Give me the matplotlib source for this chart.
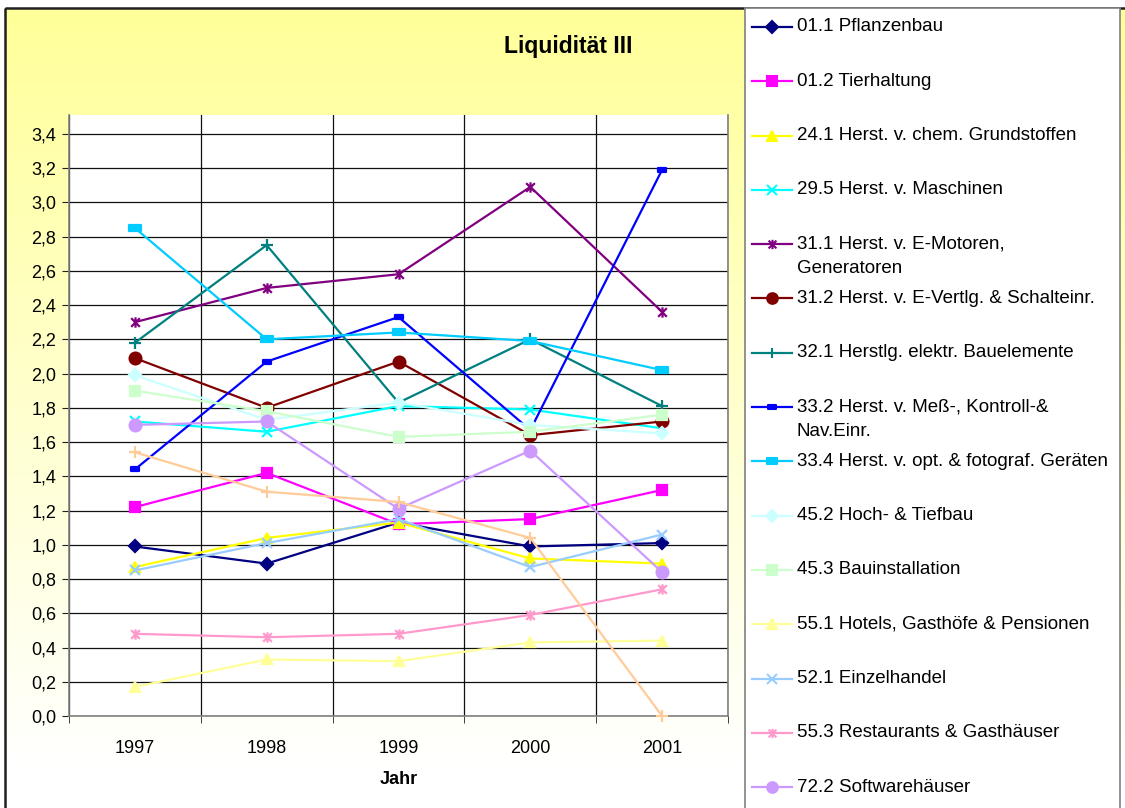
import numpy as np
import matplotlib
matplotlib.use("Agg")
import matplotlib.pyplot as plt
from matplotlib.path import Path
from matplotlib.patches import Rectangle

plt.rcParams['font.family'] = ['Liberation Sans', 'DejaVu Sans']

# ---------------- data ----------------
years = ['1997', '1998', '1999', '2000', '2001']
yticks = [0.0, 0.2, 0.4, 0.6, 0.8, 1.0, 1.2, 1.4, 1.6, 1.8, 2.0, 2.2, 2.4, 2.6, 2.8, 3.0, 3.2, 3.4]

pflanzenbau = [0.99, 0.89, 1.13, 0.99, 1.01]
tierhaltung = [1.22, 1.42, 1.12, 1.15, 1.32]
chem_grundstoffe = [0.87, 1.04, 1.13, 0.92, 0.89]
maschinen = [1.72, 1.66, 1.81, 1.79, 1.68]
e_motoren = [2.30, 2.50, 2.58, 3.09, 2.36]
e_vertlg = [2.09, 1.80, 2.07, 1.64, 1.72]
bauelemente = [2.18, 2.75, 1.83, 2.20, 1.81]
mess_kontroll = [1.44, 2.07, 2.33, 1.67, 3.19]
opt_foto = [2.85, 2.20, 2.24, 2.19, 2.02]
hoch_tiefbau = [1.99, 1.73, 1.83, 1.70, 1.65]
bauinstallation = [1.90, 1.78, 1.63, 1.66, 1.76]
hotels = [0.17, 0.33, 0.32, 0.43, 0.44]
einzelhandel = [0.85, 1.01, 1.15, 0.87, 1.06]
restaurants = [0.48, 0.46, 0.48, 0.59, 0.74]
software = [1.70, 1.72, 1.21, 1.55, 0.84]
series_16 = [1.54, 1.31, 1.25, 1.04, 0.00]   # 16th series, its legend entry is cut off

labels = ['01.1 Pflanzenbau', '01.2 Tierhaltung', '24.1 Herst. v. chem. Grundstoffen',
          '29.5 Herst. v. Maschinen', '31.1 Herst. v. E-Motoren,\nGeneratoren',
          '31.2 Herst. v. E-Vertlg. & Schalteinr.', '32.1 Herstlg. elektr. Bauelemente',
          '33.2 Herst. v. Meß-, Kontroll-&\nNav.Einr.', '33.4 Herst. v. opt. & fotograf. Geräten',
          '45.2 Hoch- & Tiefbau', '45.3 Bauinstallation', '55.1 Hotels, Gasthöfe & Pensionen',
          '52.1 Einzelhandel', '55.3 Restaurants & Gasthäuser', '72.2 Softwarehäuser', None]

# ---------------- styles ----------------
star = Path([(-1, -1), (1, 1), (-1, 1), (1, -1), (0, -1.2), (0, 1.2)],
            [Path.MOVETO, Path.LINETO, Path.MOVETO, Path.LINETO, Path.MOVETO, Path.LINETO])
short_dash = Path([(-1, -0.55), (1, -0.55), (1, 0.55), (-1, 0.55), (-1, -0.55)],
                  [Path.MOVETO, Path.LINETO, Path.LINETO, Path.LINETO, Path.CLOSEPOLY])
long_dash = Path([(-1, -0.5), (1, -0.5), (1, 0.5), (-1, 0.5), (-1, -0.5)],
                 [Path.MOVETO, Path.LINETO, Path.LINETO, Path.LINETO, Path.CLOSEPOLY])

series = [pflanzenbau, tierhaltung, chem_grundstoffe, maschinen, e_motoren, e_vertlg,
          bauelemente, mess_kontroll, opt_foto, hoch_tiefbau, bauinstallation, hotels,
          einzelhandel, restaurants, software, series_16]
colors = ['#000080', '#FF00FF', '#FFFF00', '#00FFFF', '#800080', '#800000', '#008080',
          '#0000FF', '#00CCFF', '#CCFFFF', '#CCFFCC', '#FFFF99', '#99CCFF', '#FF99CC',
          '#CC99FF', '#FFCC99']
markers = ['D', 's', '^', 'x', star, 'o', '+', short_dash, long_dash,
           'D', 's', '^', 'x', star, 'o', '+']
msizes = [6.5, 7.5, 7.5, 7.5, 7.5, 8.5, 8, 6, 8.5, 6.5, 7.5, 7.5, 7.5, 7.5, 8.5, 8]

W, H = 1125, 808
fig = plt.figure(figsize=(W / 100, H / 100), dpi=100)
fig.patch.set_facecolor('white')

# background: gradient chart area
bg = fig.add_axes([0, 0, 1, 1], zorder=-10)
bg.set_xlim(0, W)
bg.set_ylim(H, 0)
bg.axis('off')
top = np.array([1.0, 1.0, 0x99 / 255])
bot = np.array([1.0, 1.0, 1.0])
t = np.clip((np.linspace(8, H, 200) - 8) / 760.0, 0, 1)[:, None]
grad = (top[None, :] * (1 - t) + bot[None, :] * t)[:, None, :]
bg.imshow(grad, extent=(5, W, H, 8), aspect='auto', interpolation='bilinear')
bg.add_patch(Rectangle((5, 8), W - 3, H + 10, fill=False, edgecolor='#202020', lw=1.8))

# main axes
left, right, top_px, bot_px = 69, 728, 115, 716
ax = fig.add_axes([left / W, (H - bot_px) / H, (right - left) / W, (bot_px - top_px) / H])
ax.set_facecolor('white')
x = np.arange(len(years))
for s, c, m, ms in zip(series, colors, markers, msizes):
    ax.plot(x, s, color=c, lw=1.6, marker=m, ms=ms, mfc=c, mec=c, mew=1.6, clip_on=False, zorder=3)

ax.set_xlim(-0.5, 4.5)
ax.set_ylim(0, 3.51)
ax.set_yticks(yticks)
ax.set_yticklabels([f'{v:.1f}'.replace('.', ',') for v in yticks])
ax.set_xticks(x)
ax.set_xticklabels(years)
ax.set_xticks(np.arange(-0.5, 4.6, 1), minor=True)
ax.tick_params(axis='x', which='major', length=0, pad=17, labelsize=13)
ax.tick_params(axis='x', which='minor', length=5, direction='out', color='#202020')
ax.tick_params(axis='y', length=5, direction='out', color='#202020', pad=4, labelsize=13)
ax.grid(axis='y', which='major', color='#101010', lw=0.9)
ax.grid(axis='x', which='minor', color='#101010', lw=0.9)
ax.set_axisbelow(True)
for sp in ['left', 'bottom', 'right']:
    ax.spines[sp].set_color('#808080')
    ax.spines[sp].set_linewidth(1.2)
ax.spines['top'].set_visible(False)
ax.set_xlabel('Jahr', fontsize=13, fontweight='bold', labelpad=10)

fig.text(568 / W, 1 - 47 / H, 'Liquidität III', fontsize=16.5, fontweight='bold',
         ha='center', va='center')

# legend panel (extends below the figure like the original)
lx0, lx1, ly0, ly1 = 745, 1120, 8, 900
lax = fig.add_axes([lx0 / W, (H - ly1) / H, (lx1 - lx0) / W, (ly1 - ly0) / H])
lax.set_xlim(lx0, lx1)
lax.set_ylim(ly1, ly0)
lax.set_facecolor('white')
lax.set_xticks([])
lax.set_yticks([])
for sp in lax.spines.values():
    sp.set_color('#808080')
    sp.set_linewidth(1.2)
row0, step = 27, 54.3
for i, (lab, c, m, ms) in enumerate(zip(labels, colors, markers, msizes)):
    yc = row0 + i * step
    lax.plot([752, 792], [yc, yc], color=c, lw=1.6)
    lax.plot([772], [yc], color=c, marker=m, ms=ms * 0.9, mfc=c, mec=c, mew=1.5)
    if lab is None:
        continue
    for j, part in enumerate(lab.split('\n')):
        lax.text(797, yc + j * 24, part, fontsize=13.5, va='center', ha='left')

fig.savefig('out.png', dpi=100)
